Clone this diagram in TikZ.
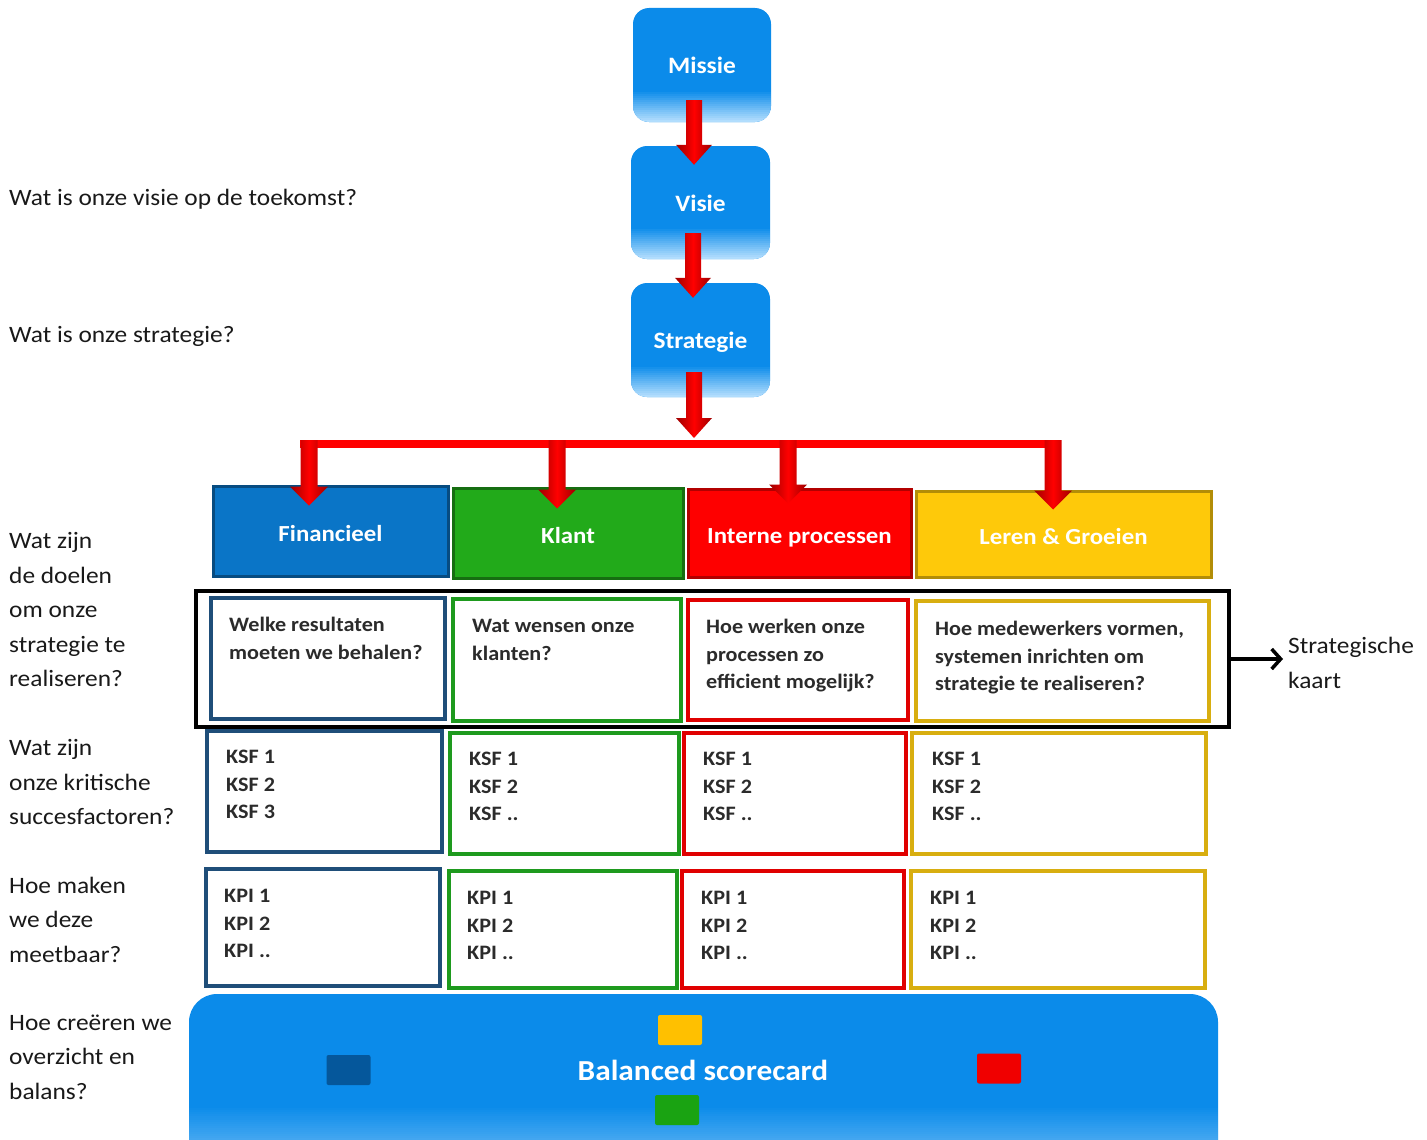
\documentclass[tikz,border=0pt]{standalone}
\usepackage{fontspec}
\setmainfont{Carlito}[FakeStretch=1.08]
\usetikzlibrary{arrows.meta,calc}
\definecolor{bsblue}{HTML}{0B8BEA}
\definecolor{bslight}{HTML}{C4E6FF}
\definecolor{arrowred}{HTML}{FF0000}
\definecolor{arrdark}{HTML}{9E0000}
\definecolor{finblue}{HTML}{0A75C7}
\definecolor{finedge}{HTML}{1F4E79}
\definecolor{klgreen}{HTML}{22AA1A}
\definecolor{kledge}{HTML}{1E9A1E}
\definecolor{inred}{HTML}{FE0000}
\definecolor{inedge}{HTML}{E00000}
\definecolor{leyellow}{HTML}{FEC90A}
\definecolor{leedge}{HTML}{D8AE10}
\definecolor{sqblue}{HTML}{05579B}
\definecolor{sqgreen}{HTML}{1AA312}
\definecolor{sqred}{HTML}{F00000}
\definecolor{sqyellow}{HTML}{FFC000}
\definecolor{boxtext}{HTML}{2B2B2B}
% block arrow: #1 start (only its y is used), #2 tip, #3 half shaft, #4 half head, #5 head length
\newcommand{\bsarrow}[5]{%
  \shade[left color=arrdark, right color=arrdark, middle color=arrowred]
    ($(#2 |- #1)+(-#3,0)$) -- ($(#2)+(-#3,-#5)$) -- ($(#2)+(-#4,-#5)$) -- (#2)
    -- ($(#2)+(#4,-#5)$) -- ($(#2)+(#3,-#5)$) -- ($(#2 |- #1)+(#3,0)$) -- cycle;}
% light band at the bottom of a blue shape (used inside path picture)
% #1 start height above bottom, #2 steps, #3 step height, #4 final percent of blue
\newcommand{\bandfill}[4]{%
  \foreach \i in {1,...,#2}{%
    \pgfmathtruncatemacro{\pc}{100-(100-#4)*\i/#2}%
    \fill[sharp corners, bsblue!\pc!bslight]
      ($(path picture bounding box.south west)+(0,{-(#1)+(\i-1)*#3})$) rectangle
      ($(path picture bounding box.south east)+(0,{-(#1)+\i*#3+0.6})$);}}
\begin{document}
\begin{tikzpicture}[x=1pt,y=-1pt,
  bluebox/.style={rounded corners=16pt, fill=bsblue, minimum width=138pt, minimum height=114pt,
    inner sep=0pt, text=white, font=\bfseries\fontsize{23.5}{26}\selectfont,
    text height=17pt, text depth=0pt,
    path picture={\bandfill{30}{15}{2}{10}}},
  hdr/.style={draw, line width=3pt, inner sep=0pt, text=white, font=\bfseries\fontsize{23}{26}\selectfont,
    text height=20pt, text depth=0pt},
  qbox/.style={draw, line width=3.5pt, fill=white, inner sep=0pt},
  qtxt/.style={anchor=north west, inner sep=0pt, align=left, text=boxtext,
    font=\bfseries\fontsize{20.5}{27.6}\selectfont},
  lefttxt/.style={anchor=north west, inner sep=0pt, align=left, text=black!90,
    font=\fontsize{23.5}{34.5}\selectfont},
  sq/.style={rounded corners=2pt, minimum width=44pt, minimum height=30pt, inner sep=0pt}
]
\useasboundingbox (0,0) rectangle (1427,1140);
\clip (0,0) rectangle (1427,1140);

% top chain
\node[bluebox] (missie) at (702,65) {Missie};
\node[bluebox, minimum width=139pt, minimum height=113pt] (visie) at (700.5,202.5) {Visie};
\node[bluebox, minimum width=139pt] (strat) at (700.5,340) {Strategie};

\coordinate (a1s) at ([yshift=22pt]missie.south);
\coordinate (a1t) at ([xshift=-6.5pt,yshift=-19pt]visie.north);
\bsarrow{a1s}{a1t}{8}{18}{20}
\coordinate (a2s) at ([yshift=26pt]visie.south);
\coordinate (a2t) at ([xshift=-7.5pt,yshift=-15pt]strat.north);
\bsarrow{a2s}{a2t}{8}{18}{20}

% headers
\node[hdr, fill=finblue, draw=finblue!65!black, minimum width=235pt, minimum height=90pt] (fin) at (330.5,531) {Financieel};
\node[hdr, fill=klgreen, draw=klgreen!65!black, minimum width=230pt, minimum height=90pt] (kl) at (568,533) {Klant};
\node[hdr, fill=inred, draw=inred!70!black, minimum width=223pt, minimum height=88pt] (in) at (799.5,533) {Interne processen};
\node[hdr, fill=leyellow, draw=leyellow!70!black, minimum width=295pt, minimum height=86pt] (le) at (1063.5,534) {Leren \& Groeien};

% red bus
\coordinate (busL) at (300,444);
\coordinate (busR) at (1061,444);
\draw[arrowred, line width=8pt] (busL) -- (busR);
\coordinate (a3s) at ([yshift=25pt]strat.south);
\coordinate (busmid) at (694,438);
\bsarrow{a3s}{busmid}{8}{18}{20}
\coordinate (b1) at (309,440);
\coordinate (b2) at (557,440);
\coordinate (b3) at (788,440);
\coordinate (b4) at (1053,440);
\coordinate (t1) at ($(b1 |- fin.north)+(0,21)$);
\coordinate (t2) at ($(b2 |- kl.north)+(0,22)$);
\coordinate (t3) at ($(b3 |- in.north)+(0,16)$);
\coordinate (t4) at ($(b4 |- le.north)+(0,20)$);
\bsarrow{b1}{t1}{8.5}{19}{19}
\bsarrow{b2}{t2}{8.5}{19}{19}
\bsarrow{b3}{t3}{8.5}{19}{19}
\bsarrow{b4}{t4}{8.5}{19}{19}

% strategic map frame
\node[draw=black, line width=4.5pt, minimum width=1033pt, minimum height=136pt, inner sep=0pt] (frame) at (712.5,659) {};

% question boxes
\node[qbox, draw=finedge, minimum width=234pt, minimum height=121pt] (qfin) at (328,658.5) {};
\node[qbox, draw=kledge, minimum width=228pt, minimum height=122pt] (qkl) at (567,660) {};
\node[qbox, draw=inedge, minimum width=220pt, minimum height=120pt] (qin) at (798,660) {};
\node[qbox, draw=leedge, minimum width=293pt, minimum height=120pt] (qle) at (1062.5,661) {};
\node[qtxt] (tqfin) at (229,617) {Welke resultaten\\moeten we behalen?};
\node[qtxt] (tqkl) at (472,619) {Wat wensen onze\\klanten?};
\node[qtxt] (tqin) at (706,619) {Hoe werken onze\\processen zo\\efficient mogelijk?};
\node[qtxt] (tqle) at (935,621) {Hoe medewerkers vormen,\\systemen inrichten om\\strategie te realiseren?};

% KSF boxes
\node[qbox, draw=finedge, minimum width=235pt, minimum height=121pt] (kfin) at (324.5,791.5) {};
\node[qbox, draw=kledge, minimum width=229pt, minimum height=121pt] (kkl) at (564.5,793.5) {};
\node[qbox, draw=inedge, minimum width=222pt, minimum height=121pt] (kin) at (795,793.5) {};
\node[qbox, draw=leedge, minimum width=294pt, minimum height=121pt] (kle) at (1059,793.5) {};
\node[qtxt] (tkfin) at (226,750) {KSF 1\\KSF 2\\KSF 3};
\node[qtxt] (tkkl) at (469,752) {KSF 1\\KSF 2\\KSF ..};
\node[qtxt] (tkin) at (703,752) {KSF 1\\KSF 2\\KSF ..};
\node[qtxt] (tkle) at (932,752) {KSF 1\\KSF 2\\KSF ..};

% KPI boxes
\node[qbox, draw=finedge, minimum width=234pt, minimum height=117pt] (pfin) at (323,927.5) {};
\node[qbox, draw=kledge, minimum width=228pt, minimum height=117pt] (pkl) at (563,929.5) {};
\node[qbox, draw=inedge, minimum width=222pt, minimum height=117pt] (pin) at (793,929.5) {};
\node[qbox, draw=leedge, minimum width=294pt, minimum height=117pt] (ple) at (1058,929.5) {};
\node[qtxt] (tpfin) at (224,889) {KPI 1\\KPI 2\\KPI ..};
\node[qtxt] (tpkl) at (467,891) {KPI 1\\KPI 2\\KPI ..};
\node[qtxt] (tpin) at (701,891) {KPI 1\\KPI 2\\KPI ..};
\node[qtxt] (tple) at (930,891) {KPI 1\\KPI 2\\KPI ..};

% balanced scorecard
\node[rounded corners=28pt, fill=bsblue, minimum width=1029pt, minimum height=196pt, inner sep=0pt,
  path picture={\bandfill{82}{41}{2}{25}}]
  (bsc) at (703.5,1092) {};
\node[text=white, font=\bfseries\fontsize{29}{34}\selectfont, inner sep=0pt] (bsctxt) at (703,1070) {Balanced scorecard};
\node[sq, fill=sqyellow] (sqy) at (680,1030) {};
\node[sq, fill=sqblue] (sqb) at (348.5,1070) {};
\node[sq, fill=sqred] (sqr) at (999,1068.5) {};
\node[sq, fill=sqgreen] (sqg) at (677,1110) {};

% left questions
\node[lefttxt] (l1) at (9,188.5) {Wat is onze visie op de toekomst?};
\node[lefttxt] (l2) at (9,326.5) {Wat is onze strategie?};
\node[lefttxt] (l3) at (9,532.5) {Wat zijn\\de doelen\\om onze\\strategie te\\realiseren?};
\node[lefttxt] (l4) at (9,739.5) {Wat zijn\\onze kritische\\succesfactoren?};
\node[lefttxt] (l5) at (9,876.5) {Hoe maken\\we deze\\meetbaar?};
\node[lefttxt] (l6) at (9,1014.5) {Hoe creëren we\\overzicht en\\balans?};

% strategische kaart
\node[lefttxt] (sk) at (1288,637) {Strategische\\kaart};
\draw[line width=3.5pt, -{Straight Barb[length=9pt,width=20pt]}] (frame.east) -- ([xshift=-5pt]frame.east -| sk.west);
\end{tikzpicture}
\end{document}
